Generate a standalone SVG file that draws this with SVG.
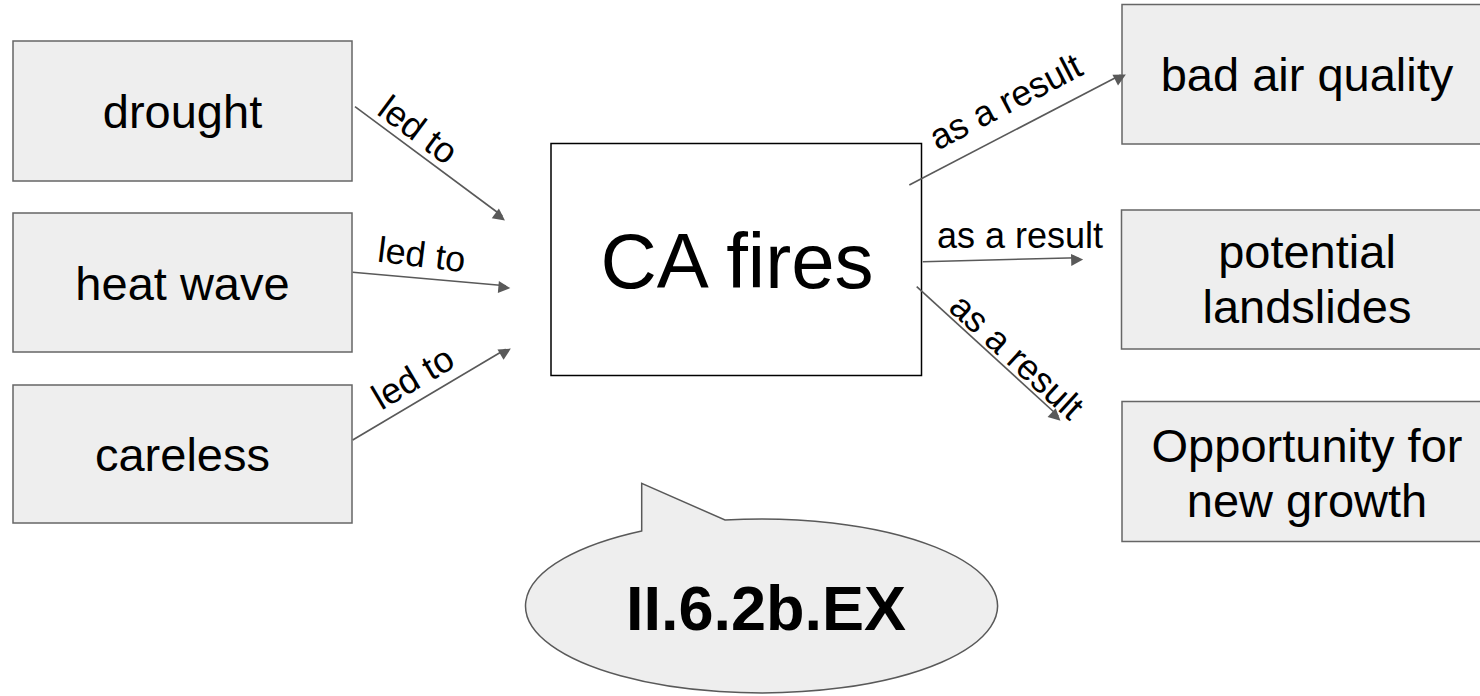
<svg xmlns="http://www.w3.org/2000/svg" width="1480" height="696" viewBox="0 0 1480 696">
<defs>
<style>
.box{fill:#eeeeee;stroke:#666666;stroke-width:1.5}
.t{font-family:"Liberation Sans",Arial,sans-serif;font-size:47px;fill:#000;text-anchor:middle}
.lbl{font-family:"Liberation Sans",Arial,sans-serif;font-size:36px;fill:#000;text-anchor:middle}
.conn{stroke:#595959;stroke-width:1.6;fill:none;marker-end:url(#ah)}
</style>
<marker id="ah" viewBox="0 0 10 10" refX="9" refY="5" markerWidth="8" markerHeight="8" markerUnits="userSpaceOnUse" orient="auto" overflow="visible">
<path d="M0,0 L10,5 L0,10 z" fill="#595959" transform="scale(1.5)"/>
</marker>
</defs>
<rect width="1480" height="696" fill="#ffffff"/>
<g id="drought"><rect class="box" x="13" y="41" width="339" height="140"/><text class="t" x="182.5" y="128">drought</text></g>
<g id="heat-wave"><rect class="box" x="13" y="213" width="339" height="139"/><text class="t" x="182.5" y="300">heat wave</text></g>
<g id="careless"><rect class="box" x="13" y="385" width="339" height="138"/><text class="t" x="182.5" y="471">careless</text></g>
<g id="ca-fires"><rect x="551" y="143.5" width="370.5" height="232" fill="#ffffff" stroke="#000000" stroke-width="1.5"/><text x="737" y="288" font-family="Liberation Sans, Arial, sans-serif" font-size="78" text-anchor="middle">CA fires</text></g>
<g id="bad-air"><rect class="box" x="1122" y="4.5" width="380" height="139.5"/><text class="t" x="1307" y="91">bad air quality</text></g>
<g id="landslides"><rect class="box" x="1121.5" y="210" width="380" height="139"/><text class="t" x="1307" y="268">potential</text><text class="t" x="1307" y="323">landslides</text></g>
<g id="growth"><rect class="box" x="1122" y="401.5" width="380" height="140"/><text class="t" x="1307" y="462">Opportunity for</text><text class="t" x="1307" y="517">new growth</text></g>
<g id="callout"><path d="M641.7,531 L641.7,483.3 L725,520 A236,87 0 1 1 641.7,531 Z" fill="#eeeeee" stroke="#595959" stroke-width="1.5"/><text x="766" y="630" font-family="Liberation Sans, Arial, sans-serif" font-size="63" font-weight="bold" text-anchor="middle">II.6.2b.EX</text></g>
<g id="connectors">
<line class="conn" x1="355" y1="106.7" x2="502.3" y2="216"/>
<line class="conn" x1="352.7" y1="272.3" x2="505.7" y2="285.7"/>
<line class="conn" x1="352.7" y1="440" x2="505.7" y2="349.3"/>
<line class="conn" x1="909.3" y1="185" x2="1120.7" y2="75"/>
<line class="conn" x1="922.7" y1="261.7" x2="1078.3" y2="257.7"/>
<line class="conn" x1="916.7" y1="286.7" x2="1058.3" y2="416"/>
<text class="lbl" transform="translate(418,130) rotate(36.6)" y="12">led to</text>
<text class="lbl" transform="translate(421.7,255) rotate(7)" y="12">led to</text>
<text class="lbl" transform="translate(413,378) rotate(-30.7)" y="12">led to</text>
<text class="lbl" transform="translate(1005.7,101.7) rotate(-27.5)" y="12">as a result</text>
<text class="lbl" x="1020" y="248">as a result</text>
<text class="lbl" transform="translate(1016.7,356.7) rotate(42.4)" y="12">as a result</text>
</g>
</svg>
